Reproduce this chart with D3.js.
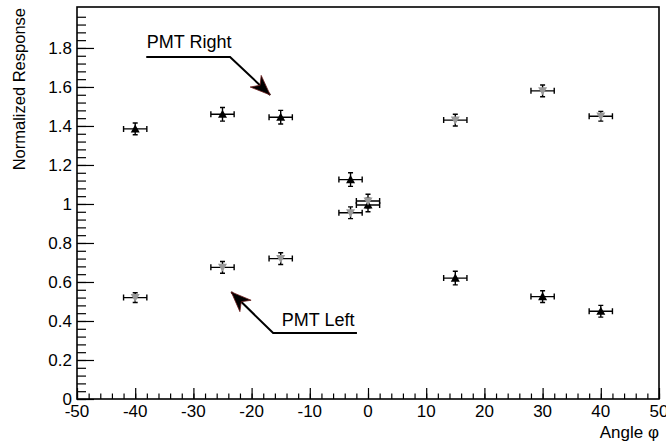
<!DOCTYPE html>
<meta charset="utf-8">
<head>
<script src="https://d3js.org/d3.v7.min.js"></script>
<style>
body { margin: 0; background: white; }
svg { font-family: "Liberation Sans", Arial, sans-serif; }
</style>
</head>
<body>
<div id="chart"></div>
<script>
// data
var angles    = [-40, -25, -15, -3, 0, 15, 30, 40];
var angleErr  = [2, 2, 2, 2, 2, 2, 2, 2];
var rightResp = [1.385, 1.46, 1.445, 1.125, 0.995, 0.62, 0.525, 0.45];
var rightErr  = [0.03, 0.035, 0.035, 0.035, 0.035, 0.035, 0.03, 0.03];
var leftResp  = [0.52, 0.675, 0.72, 0.955, 1.015, 1.43, 1.58, 1.45];
var leftErr   = [0.025, 0.03, 0.03, 0.03, 0.035, 0.03, 0.03, 0.025];
var xTicks = [-50, -40, -30, -20, -10, 0, 10, 20, 30, 40, 50];
var yTicks = [0, 0.2, 0.4, 0.6, 0.8, 1, 1.2, 1.4, 1.6, 1.8];

var W = 666, H = 444;
var fLeft = 77, fRight = 659, fTop = 7, fBottom = 399;

var svg = d3.select("#chart").append("svg")
	.attr("width", W).attr("height", H);

var x = d3.scaleLinear().domain([-50, 50]).range([fLeft, fRight]);
var y = d3.scaleLinear().domain([0, 2.01]).range([fBottom, fTop]);

// frame
svg.append("rect")
	.attr("x", fLeft).attr("y", fTop)
	.attr("width", fRight - fLeft).attr("height", fBottom - fTop)
	.attr("fill", "none").attr("stroke", "black").attr("stroke-width", 1.6);

// x axis, ticks pointing inside
var xAxis = svg.append("g").attr("transform", "translate(0," + fBottom + ")");
xAxis.append("g").call(d3.axisTop(x).tickValues(d3.range(-50, 50.1, 2)).tickSize(5.5).tickFormat(""));
xAxis.append("g").call(d3.axisTop(x).tickValues(xTicks).tickSize(11).tickFormat(""));
xAxis.selectAll(".domain").remove();
xAxis.selectAll("line").attr("stroke", "black").attr("stroke-width", 1.2);
svg.selectAll(".xlab").data(xTicks).enter().append("text")
	.attr("x", d => x(d)).attr("y", fBottom + 18)
	.attr("text-anchor", "middle").attr("font-size", 17)
	.text(d => d);

// y axis
var yAxis = svg.append("g").attr("transform", "translate(" + fLeft + ",0)");
yAxis.append("g").call(d3.axisRight(y).tickValues(d3.range(0, 2.0, 0.04)).tickSize(9).tickFormat(""));
yAxis.append("g").call(d3.axisRight(y).tickValues(yTicks).tickSize(17).tickFormat(""));
yAxis.selectAll(".domain").remove();
yAxis.selectAll("line").attr("stroke", "black").attr("stroke-width", 1.2);
svg.selectAll(".ylab").data(yTicks).enter().append("text")
	.attr("x", fLeft - 5).attr("y", d => y(d) + 6)
	.attr("text-anchor", "end").attr("font-size", 17)
	.text(d => d);

// axis titles
svg.append("text").attr("x", fRight).attr("y", 438)
	.attr("text-anchor", "end").attr("font-size", 17)
	.text("Angle \u03c6");
svg.append("text")
	.attr("transform", "translate(25,8) rotate(-90)")
	.attr("text-anchor", "end").attr("font-size", 16.5)
	.text("Normalized Response");

// points with error bars
function drawSeries(vals, errs, color, up) {
	var g = svg.append("g");
	angles.forEach(function(a, i) {
		var cx = x(a), cy = y(vals[i]);
		var x0 = x(a - angleErr[i]), x1 = x(a + angleErr[i]);
		var y0 = y(vals[i] - errs[i]), y1 = y(vals[i] + errs[i]);
		var p = d3.path();
		p.moveTo(x0, cy); p.lineTo(x1, cy);
		p.moveTo(x0, cy - 3); p.lineTo(x0, cy + 3);
		p.moveTo(x1, cy - 3); p.lineTo(x1, cy + 3);
		p.moveTo(cx, y0); p.lineTo(cx, y1);
		p.moveTo(cx - 2.5, y0); p.lineTo(cx + 2.5, y0);
		p.moveTo(cx - 2.5, y1); p.lineTo(cx + 2.5, y1);
		g.append("path").attr("d", p.toString())
			.attr("stroke", "black").attr("stroke-width", 1.4).attr("fill", "none");
		var s = 4.5;
		var tri = up
			? [[cx, cy - s], [cx + s, cy + s * 0.8], [cx - s, cy + s * 0.8]]
			: [[cx, cy + s], [cx + s, cy - s * 0.8], [cx - s, cy - s * 0.8]];
		g.append("path").attr("d", d3.line()(tri) + "Z").attr("fill", color);
	});
}
drawSeries(rightResp, rightErr, "black", true);
drawSeries(leftResp, leftErr, "#999999", false);

// annotations: label, line, arrow (data coordinates)
function arrow(tx, ty, lx0, lx1, ly, hx, hy, label) {
	svg.append("text").attr("x", x(tx)).attr("y", y(ty))
		.attr("font-size", 18).text(label);
	var sx = x(lx0), ex = x(lx1), yy = y(ly), px = x(hx), py = y(hy);
	svg.append("path")
		.attr("d", "M" + sx + "," + yy + "L" + ex + "," + yy + "L" + px + "," + py)
		.attr("stroke", "black").attr("stroke-width", 2).attr("fill", "none");
	var ang = Math.atan2(py - yy, px - ex);
	var L = 20, Wd = 8;
	var bx = px - L * Math.cos(ang), by = py - L * Math.sin(ang);
	var nx = -Math.sin(ang), ny = Math.cos(ang);
	var mx = px - 0.7 * L * Math.cos(ang), my = py - 0.7 * L * Math.sin(ang);
	var head = [[px, py], [bx + nx * Wd, by + ny * Wd], [mx, my], [bx - nx * Wd, by - ny * Wd]];
	svg.append("path").attr("d", d3.line()(head) + "Z")
		.attr("fill", "black").attr("stroke", "#6b1a1a").attr("stroke-width", 0.8);
}
arrow(-38, 1.80, -38.1, -23.7, 1.754, -16.8, 1.559, "PMT Right");
arrow(-14.8, 0.374, -1.9, -16.3, 0.338, -23.5, 0.549, "PMT Left");
</script>
</body>
